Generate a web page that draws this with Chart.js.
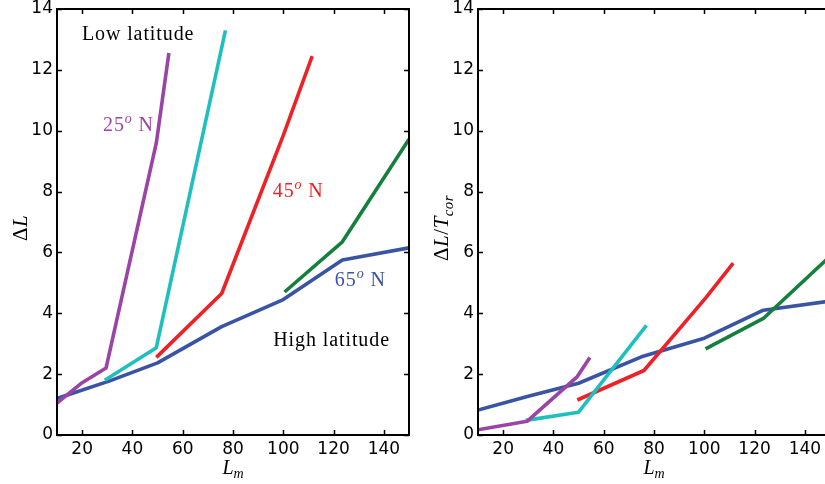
<!DOCTYPE html>
<html><head><meta charset="utf-8">
<script src="https://cdn.jsdelivr.net/npm/chart.js@4/dist/chart.umd.min.js"></script>
<style>
html,body{margin:0;padding:0;background:#fff;overflow:hidden;width:825px;height:484px}
#w1{position:absolute;left:0;top:0;width:420px;height:484px}
#w2{position:absolute;left:421px;top:0;width:420px;height:484px}
</style></head><body>
<div id="w1"><canvas id="c1" width="420" height="484"></canvas></div>
<div id="w2"><canvas id="c2" width="420" height="484"></canvas></div>
<script>
// ---------- data ----------
const xTicks = [20, 40, 60, 80, 100, 120, 140];
const yTicks = [0, 2, 4, 6, 8, 10, 12, 14];

// Left panel: ΔL
const L_x25 = [10, 20, 29.5, 49.5, 54.5];
const L_y25 = [1.05, 1.72, 2.2, 9.6, 12.55];
const L_x35 = [29, 49.5, 77];
const L_y35 = [1.8, 2.87, 13.3];
const L_x45 = [49.5, 75.5, 100, 111.5];
const L_y45 = [2.55, 4.65, 9.85, 12.45];
const L_x55 = [100.5, 123.5, 150];
const L_y55 = [4.7, 6.35, 9.72];
const L_x65 = [10, 31, 50, 75.5, 100, 123.5, 150];
const L_y65 = [1.2, 1.78, 2.37, 3.56, 4.45, 5.75, 6.15];

// Right panel: ΔL / T_cor
const R_x25 = [10, 29.5, 49.5, 54.5];
const R_y25 = [0.17, 0.45, 1.92, 2.55];
const R_x35 = [29, 50, 77];
const R_y35 = [0.48, 0.75, 3.6];
const R_x45 = [49.5, 76, 100.5, 111.5];
const R_y45 = [1.15, 2.12, 4.5, 5.65];
const R_x55 = [100.5, 123.5, 150];
const R_y55 = [2.83, 3.83, 5.87];
const R_x65 = [10, 30, 50, 75, 100, 123.5, 150];
const R_y65 = [0.82, 1.27, 1.7, 2.57, 3.18, 4.1, 4.4];

const colors = {c25:'#9a44a5', c35:'#1fbfbf', c45:'#ee2126', c55:'#15803c', c65:'#3a54a4'};
const SERIF = '"Liberation Serif", "Times New Roman", serif';

function pts(xs, ys){ return xs.map((x,i)=>({x:x, y:ys[i]})); }
function ds(xs, ys, c){
  return {data: pts(xs, ys), borderColor: c, backgroundColor: c, borderWidth: 3.6,
          pointRadius: 0, tension: 0, fill: false, borderCapStyle: 'butt', borderJoinStyle: 'round'};
}

function drawRich(ctx, segs, x, y, size, color, align, spacing){
  ctx.save();
  ctx.letterSpacing = (spacing||0) + 'px';
  const parts = segs.map(s => {
    const fs = (s.sub || s.sup) ? size*0.7 : size;
    const font = (s.it ? 'italic ' : '') + fs + 'px ' + SERIF;
    ctx.font = font;
    return {t: s.t, font: font, w: ctx.measureText(s.t).width,
            dy: s.sub ? size*0.22 : (s.sup ? -size*0.4 : 0)};
  });
  const total = parts.reduce((a,p)=>a+p.w, 0);
  let cx = align === 'center' ? x - total/2 : x;
  ctx.textAlign = 'left'; ctx.textBaseline = 'alphabetic'; ctx.fillStyle = color;
  parts.forEach(p => { ctx.font = p.font; ctx.fillText(p.t, cx, y + p.dy); cx += p.w; });
  ctx.restore();
  return total;
}

const framePlugin = {
  id: 'frame',
  afterDraw(chart){
    const ctx = chart.ctx, a = chart.chartArea, xs = chart.scales.x, ys = chart.scales.y;
    ctx.save();
    ctx.strokeStyle = '#000';
    ctx.lineWidth = 1.5;
    const tl = 5;
    ctx.beginPath();
    xTicks.forEach(v => { const p = Math.round(xs.getPixelForValue(v)) + 0.5;
      ctx.moveTo(p, a.bottom); ctx.lineTo(p, a.bottom - tl);
      ctx.moveTo(p, a.top); ctx.lineTo(p, a.top + tl); });
    yTicks.forEach(v => { const p = Math.round(ys.getPixelForValue(v)) + 0.5;
      ctx.moveTo(a.left, p); ctx.lineTo(a.left + tl, p);
      ctx.moveTo(a.right, p); ctx.lineTo(a.right - tl, p); });
    ctx.stroke();
    ctx.lineWidth = 2;
    ctx.strokeRect(a.left, a.top, a.right - a.left, a.bottom - a.top);
    ctx.restore();
    // axis titles
    const o = chart.options.plugins.frame;
    const cxm = (a.left + a.right)/2;
    drawRich(ctx, o.xTitle, cxm, 474, 20, '#000', 'center', 0);
    ctx.save();
    ctx.translate(o.yTitleX, (a.top + a.bottom)/2 + 6);
    ctx.rotate(-Math.PI/2);
    drawRich(ctx, o.yTitle, 0, 0, 21, '#000', 'center', 0.5);
    ctx.restore();
    // annotations
    (o.notes || []).forEach(n => {
      drawRich(ctx, n.segs, xs.getPixelForValue(n.x), ys.getPixelForValue(n.y), 20, n.color, 'left', 0.9);
    });
  }
};

function makeChart(id, sets, yTitle, notes){
  return new Chart(document.getElementById(id), {
    type: 'line',
    data: {datasets: sets},
    options: {
      responsive: false, animation: false, devicePixelRatio: 1,
      layout: {padding: {top: 9, right: 11, left: 0, bottom: 0}},
      plugins: {legend: {display: false}, tooltip: {enabled: false},
        frame: {xTitle: [{t:'L', it:true},{t:'m', it:true, sub:true}], yTitle: yTitle, yTitleX: 27, notes: notes}},
      scales: {
        x: {type: 'linear', min: 10, max: 150,
          grid: {display: false, drawTicks: false}, border: {display: false},
          afterBuildTicks: s => { s.ticks = xTicks.map(v => ({value: v})); },
          afterFit: s => { s.height = 49; s.paddingLeft = 0; s.paddingRight = 0; },
          ticks: {color: '#000', font: {family: '"DejaVu Sans"', size: 17}, padding: 4, maxRotation: 0}},
        y: {type: 'linear', min: 0, max: 14,
          grid: {display: false, drawTicks: false}, border: {display: false},
          afterBuildTicks: s => { s.ticks = yTicks.map(v => ({value: v})); },
          afterFit: s => { s.width = 57; s.paddingTop = 0; s.paddingBottom = 0; },
          ticks: {color: '#000', font: {family: '"DejaVu Sans"', size: 17}, padding: 4}}
      }
    },
    plugins: [framePlugin]
  });
}

makeChart('c1', [
  ds(L_x25, L_y25, colors.c25), ds(L_x35, L_y35, colors.c35), ds(L_x45, L_y45, colors.c45),
  ds(L_x55, L_y55, colors.c55), ds(L_x65, L_y65, colors.c65)
], [{t:'Δ'},{t:'L', it:true}], [
  {x: 19.9, y: 12.98, color: '#000', segs: [{t:'Low latitude'}]},
  {x: 28.3, y: 9.99, color: colors.c25, segs: [{t:'25'},{t:'o', it:true, sup:true},{t:' N'}]},
  {x: 95.8, y: 7.82, color: colors.c45, segs: [{t:'45'},{t:'o', it:true, sup:true},{t:' N'}]},
  {x: 120.5, y: 4.91, color: colors.c65, segs: [{t:'65'},{t:'o', it:true, sup:true},{t:' N'}]},
  {x: 96, y: 2.93, color: '#000', segs: [{t:'High latitude'}]}
]);

makeChart('c2', [
  ds(R_x25, R_y25, colors.c25), ds(R_x35, R_y35, colors.c35), ds(R_x45, R_y45, colors.c45),
  ds(R_x55, R_y55, colors.c55), ds(R_x65, R_y65, colors.c65)
], [{t:'Δ'},{t:'L', it:true},{t:'/'},{t:'T', it:true},{t:'cor', it:true, sub:true}], []);
</script>
</body></html>
